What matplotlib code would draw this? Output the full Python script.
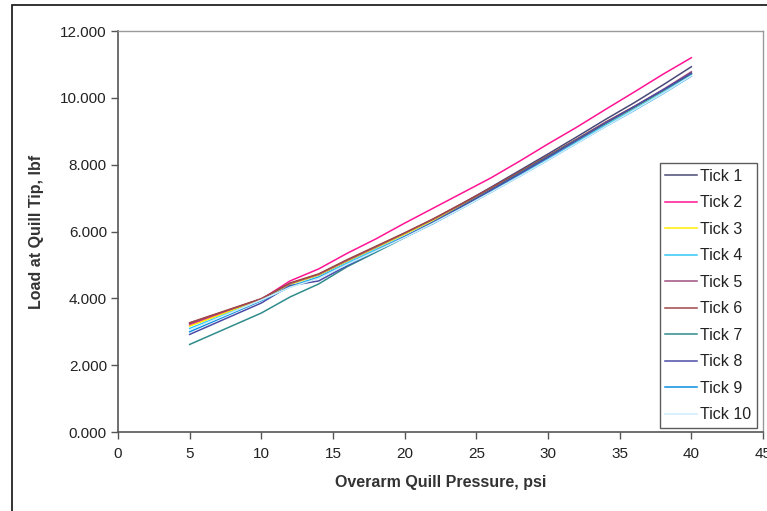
import matplotlib
matplotlib.use('Agg')
import matplotlib.pyplot as plt
import matplotlib.patches as mpatches
from matplotlib import font_manager

# pressure steps (psi)
pressure = [5, 10, 12, 14, 16, 18, 20, 22, 24, 26, 28, 30, 32, 34, 36, 38, 40]

# load at quill tip (lbf), one list per tick
tick1 = [3.24, 3.98, 4.44, 4.70, 5.12, 5.52, 5.93, 6.36, 6.83, 7.32, 7.82, 8.32, 8.83, 9.35, 9.85, 10.38, 10.93]
tick2 = [3.20, 3.97, 4.52, 4.88, 5.35, 5.78, 6.25, 6.70, 7.15, 7.60, 8.10, 8.62, 9.12, 9.65, 10.17, 10.70, 11.20]
tick3 = [3.17, 3.96, 4.42, 4.70, 5.12, 5.52, 5.92, 6.34, 6.80, 7.26, 7.74, 8.22, 8.72, 9.22, 9.70, 10.20, 10.72]
tick4 = [3.10, 3.94, 4.36, 4.64, 5.06, 5.46, 5.86, 6.29, 6.74, 7.21, 7.69, 8.18, 8.68, 9.18, 9.66, 10.16, 10.70]
tick5 = [3.26, 3.98, 4.44, 4.72, 5.14, 5.54, 5.95, 6.37, 6.82, 7.29, 7.77, 8.26, 8.76, 9.27, 9.74, 10.24, 10.78]
tick6 = [3.27, 3.99, 4.46, 4.73, 5.16, 5.56, 5.96, 6.38, 6.84, 7.30, 7.78, 8.27, 8.76, 9.26, 9.73, 10.22, 10.74]
tick7 = [2.62, 3.56, 4.04, 4.43, 4.95, 5.38, 5.82, 6.28, 6.76, 7.24, 7.74, 8.24, 8.74, 9.24, 9.72, 10.22, 10.72]
tick8 = [2.92, 3.86, 4.38, 4.52, 4.98, 5.42, 5.84, 6.28, 6.75, 7.23, 7.72, 8.22, 8.73, 9.24, 9.73, 10.23, 10.74]
tick9 = [3.00, 3.93, 4.34, 4.62, 5.02, 5.42, 5.82, 6.24, 6.70, 7.17, 7.65, 8.14, 8.64, 9.14, 9.62, 10.12, 10.65]
tick10 = [3.05, 3.95, 4.33, 4.60, 5.02, 5.42, 5.82, 6.25, 6.70, 7.17, 7.65, 8.14, 8.64, 9.14, 9.63, 10.13, 10.66]

series = [tick1, tick2, tick3, tick4, tick5, tick6, tick7, tick8, tick9, tick10]
names = ['Tick %d' % (i + 1) for i in range(10)]
colors = ['#4a4a78', '#ff1493', '#ffee00', '#33c8f5', '#a0507e',
          '#a04848', '#2f8c8c', '#4c4ca8', '#0a8ee0', '#cdeefa']

yticks = [0, 2, 4, 6, 8, 10, 12]
ytick_labels = ['0.000', '2.000', '4.000', '6.000', '8.000', '10.000', '12.000']
xticks = [0, 5, 10, 15, 20, 25, 30, 35, 40, 45]

installed = {f.name for f in font_manager.fontManager.ttflist}
narrow = 'Liberation Sans Narrow' if 'Liberation Sans Narrow' in installed else 'Liberation Sans'
lab_size = 14 if narrow == 'Liberation Sans Narrow' else 11.5

plt.rcParams['font.family'] = ['Liberation Sans', 'DejaVu Sans']

W, H = 767, 511
fig = plt.figure(figsize=(W / 100, H / 100), dpi=100)
ax = fig.add_axes([118 / W, 1 - 432 / H, (763 - 118) / W, (432 - 31) / H])

# chart area border (only left/top visible)
fig.patches.append(mpatches.Rectangle((12 / W, -0.1), 1.2, 1.1 - 5 / H,
                                      transform=fig.transFigure, fill=False,
                                      edgecolor='#222222', lw=1.3, clip_on=False))

for s, name, c in zip(series, names, colors):
    ax.plot(pressure, s, color=c, lw=1.1, label=name)

ax.set_xlim(0, 45)
ax.set_ylim(0, 12)
ax.set_xticks(xticks)
ax.set_yticks(yticks)
ax.set_yticklabels(ytick_labels)
ax.tick_params(direction='out', length=5, width=1, color='#555555',
               labelsize=11, labelcolor='#222222', pad=3)
ax.tick_params(axis='x', pad=6)

for side in ['left', 'bottom']:
    ax.spines[side].set_color('#555555')
    ax.spines[side].set_linewidth(1.2)
for side in ['top', 'right']:
    ax.spines[side].set_color('#9a9a9a')
    ax.spines[side].set_linewidth(1.0)

ax.set_xlabel('Overarm Quill Pressure, psi', family=[narrow, 'DejaVu Sans'],
              fontsize=lab_size, fontweight='bold', color='#333333', labelpad=10)
ax.set_ylabel('Load at Quill Tip, lbf', family=[narrow, 'DejaVu Sans'],
              fontsize=lab_size, fontweight='bold', color='#333333', labelpad=12)

leg = ax.legend(loc='upper right', bbox_to_anchor=((757 - 118) / 645, (432 - 163) / 401),
                borderaxespad=0, fontsize=11.5, frameon=True, fancybox=False,
                handlelength=2.0, handletextpad=0.2, labelspacing=0.72,
                borderpad=0.35)
leg.get_frame().set_edgecolor('#333333')
leg.get_frame().set_linewidth(1.0)
for t in leg.get_texts():
    t.set_color('#222222')

fig.savefig('out.png', dpi=100)
